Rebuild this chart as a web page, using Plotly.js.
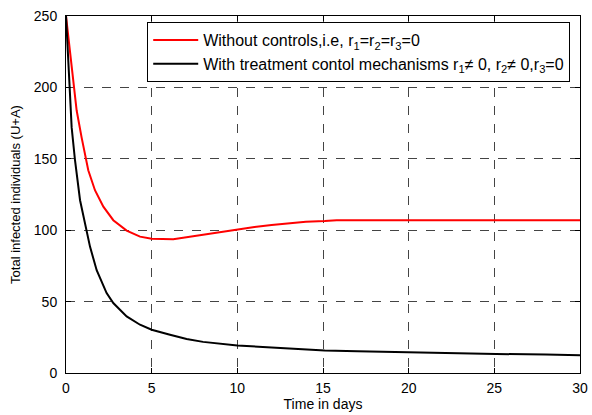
<!DOCTYPE html>
<html>
<head>
<meta charset="utf-8">
<script src="https://cdn.plot.ly/plotly-3.0.1.min.js"></script>
<style>html,body{margin:0;padding:0;background:#fff;}#chart{width:592px;height:415px;}</style>
</head>
<body>
<div id="chart"></div>
<script>
const redDays = [0,0.2,0.43,0.62,0.91,1.3,1.69,2.18,2.76,3.54,4.32,5,6.26,7,8,9,10,11,12,13.26,14,15.1,15.8,20,25,30];
const redValues = [250,228,207,184,165,142,128,116.5,107,99.7,95.5,94,93.7,95,97,99,100.7,102.3,103.7,105.3,106,106.5,107,107,107,107];
const blackDays = [0,0.1,0.23,0.33,0.525,0.82,1.11,1.4,1.79,2.37,2.76,3.54,4.32,5,6.07,7.04,8,9,10,12,15.1,17,20.1,22,25.1,28,30];
const blackValues = [250,222,196,172,149,121,105,88.5,72,56,49,39.6,33.8,30.3,26.8,23.8,21.8,20.4,19.3,17.8,15.8,15.2,14.4,14.2,13.3,13,12.5];
const seriesNames = [
  "Without controls,i.e, r<sub>1</sub>=r<sub>2</sub>=r<sub>3</sub>=0",
  "With treatment contol mechanisms r<sub>1</sub>≠ 0, r<sub>2</sub>≠ 0,r<sub>3</sub>=0"
];
const xTicks = [0,5,10,15,20,25,30];
const yTicks = [0,50,100,150,200,250];

const font = "Liberation Sans, Arial, sans-serif";
const traces = [
  {x: redDays, y: redValues, name: seriesNames[0], mode: "lines", line: {color: "#ff0000", width: 2}},
  {x: blackDays, y: blackValues, name: seriesNames[1], mode: "lines", line: {color: "#000000", width: 2}}
];
const axisCommon = {
  showline: true, linecolor: "#000", linewidth: 1, mirror: "ticks",
  ticks: "inside", ticklen: 5, tickcolor: "#000",
  showgrid: true, gridcolor: "#444", griddash: "dash", gridwidth: 1,
  zeroline: false, tickfont: {family: font, size: 14, color: "#000"}
};
const layout = {
  width: 592, height: 415,
  margin: {l: 66, r: 12, t: 16, b: 42},
  paper_bgcolor: "#fff", plot_bgcolor: "#fff",
  showlegend: true,
  legend: {
    x: 0.158, y: 0.983, xanchor: "left", yanchor: "top",
    bgcolor: "#fff", bordercolor: "#000", borderwidth: 1,
    font: {family: font, size: 16, color: "#000"},
    itemwidth: 45,
    tracegroupgap: 0
  },
  xaxis: Object.assign({}, axisCommon, {
    range: [0, 30], tickvals: xTicks, ticktext: xTicks.map(String),
    ticklabelstandoff: 2,
    title: {text: "Time in days", font: {family: font, size: 14, color: "#000"}, standoff: 2}
  }),
  yaxis: Object.assign({}, axisCommon, {
    range: [0, 250], tickvals: yTicks, ticktext: yTicks.map(String),
    ticklabelstandoff: 5,
    title: {text: "Total infected individuals (U+A)", font: {family: font, size: 13, color: "#000"}, standoff: 10}
  })
};
Plotly.newPlot("chart", traces, layout, {displayModeBar: false, staticPlot: true});
</script>
</body>
</html>
